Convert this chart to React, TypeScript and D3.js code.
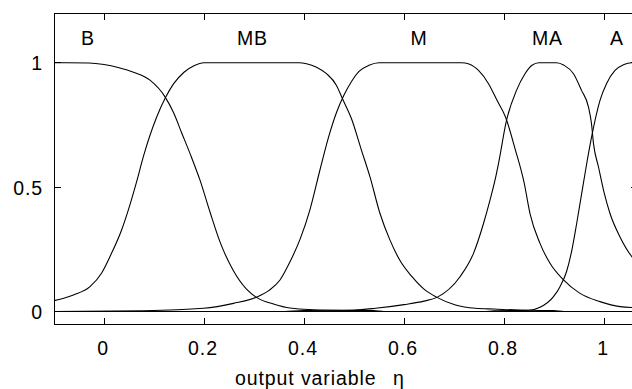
import React from "react";
import * as d3 from "d3";

const W = 632;
const H = 389;

// Membership functions (x, μ)
const bX = [-0.1, -0.03, 0.0, 0.03, 0.059, 0.092, 0.123, 0.139, 0.155, 0.175, 0.192, 0.212, 0.232, 0.258, 0.285, 0.305, 0.339, 0.372, 0.45, 0.54, 0.56, 1.07];
const bY = [1, 0.999, 0.993, 0.98, 0.962, 0.93, 0.86, 0.8, 0.72, 0.62, 0.528, 0.4, 0.28, 0.167, 0.09, 0.057, 0.03, 0.014, 0.005, 0.004, 0, 0];

const mbX = [-0.1, -0.061, -0.028, -0.005, 0.015, 0.035, 0.052, 0.065, 0.079, 0.105, 0.123, 0.139, 0.16, 0.18, 0.2, 0.39, 0.405, 0.425, 0.445, 0.465, 0.477, 0.495, 0.515, 0.532, 0.552, 0.572, 0.592, 0.616, 0.64, 0.666, 0.703, 0.743, 0.78, 0.85, 0.9, 0.92, 1.07];
const mbY = [0.044, 0.067, 0.1, 0.154, 0.234, 0.327, 0.43, 0.52, 0.625, 0.78, 0.86, 0.915, 0.962, 0.988, 1, 1, 0.996, 0.982, 0.956, 0.909, 0.855, 0.775, 0.648, 0.541, 0.394, 0.287, 0.205, 0.14, 0.09, 0.057, 0.026, 0.013, 0.01, 0.005, 0.004, 0, 0];

const mX = [-0.1, 0.08, 0.199, 0.259, 0.305, 0.33, 0.352, 0.372, 0.392, 0.412, 0.432, 0.449, 0.465, 0.48, 0.495, 0.51, 0.53, 0.55, 0.715, 0.73, 0.749, 0.769, 0.786, 0.803, 0.823, 0.84, 0.852, 0.872, 0.892, 0.919, 0.952, 0.992, 1.032, 1.07];
const mY = [0, 0.003, 0.013, 0.033, 0.058, 0.085, 0.127, 0.2, 0.29, 0.41, 0.57, 0.7, 0.8, 0.87, 0.925, 0.965, 0.99, 1, 1, 0.995, 0.969, 0.916, 0.849, 0.782, 0.648, 0.52, 0.394, 0.274, 0.194, 0.127, 0.073, 0.04, 0.02, 0.015];

const maX = [-0.1, 0.35, 0.4, 0.5, 0.543, 0.6, 0.64, 0.666, 0.712, 0.739, 0.759, 0.772, 0.782, 0.789, 0.805, 0.825, 0.842, 0.856, 0.87, 0.905, 0.92, 0.939, 0.955, 0.969, 0.975, 0.979, 0.989, 1.0, 1.012, 1.032, 1.056, 1.07];
const maY = [0, 0, 0.004, 0.006, 0.013, 0.028, 0.042, 0.057, 0.14, 0.234, 0.354, 0.448, 0.528, 0.595, 0.768, 0.889, 0.956, 0.99, 1, 1, 0.99, 0.956, 0.889, 0.822, 0.755, 0.675, 0.581, 0.48, 0.394, 0.3, 0.22, 0.19];

const aX = [-0.1, 0.76, 0.78, 0.85, 0.872, 0.899, 0.912, 0.925, 0.935, 0.945, 0.955, 0.965, 0.975, 0.992, 1.005, 1.022, 1.04, 1.055, 1.07];
const aY = [0, 0, 0.003, 0.005, 0.017, 0.06, 0.1, 0.16, 0.24, 0.35, 0.47, 0.59, 0.7, 0.849, 0.916, 0.969, 0.993, 1, 1];

const mfNames = ["B", "MB", "M", "MA", "A"];
const mfCenters = [-0.032, 0.297, 0.63, 0.887, 1.026];
const mfXs = [bX, mbX, mX, maX, aX];
const mfYs = [bY, mbY, mY, maY, aY];

const xTicks = [0, 0.2, 0.4, 0.6, 0.8, 1];
const xTickLabels = ["0", "0.2", "0.4", "0.6", "0.8", "1"];
const yTicks = [0, 0.5, 1];
const yTickLabels = ["0", "0.5", "1"];

const xLabel = "output variable";
const xLabelSym = "η";

export default function App() {
  const left = 54, right = 637.5, top = 13, bottom = 324;
  const x = d3.scaleLinear().domain([-0.1, 1.067]).range([left, right]);
  const y = d3.scaleLinear().domain([-0.05, 1.2]).range([bottom, top]);
  const line = d3
    .line<[number, number]>()
    .x((d) => x(d[0]))
    .y((d) => y(d[1]))
    .curve(d3.curveMonotoneX);

  const font = "'Liberation Sans', Arial, Helvetica, sans-serif";
  const fs = 19.5;
  const ls = 0.9;
  const tick = 6.5;

  return (
    <svg
      width={W}
      height={H}
      style={{ position: "absolute", left: 0, top: 0, background: "#fff" }}
      fontFamily={font}
    >
      <rect x={0} y={0} width={W} height={H} fill="#fff" />
      <defs>
        <clipPath id="plot">
          <rect x={left} y={top} width={right - left} height={bottom - top} />
        </clipPath>
      </defs>
      <g clipPath="url(#plot)">
        {mfXs.map((xs, i) => {
          const pts = xs.map((v, j) => [v, mfYs[i][j]] as [number, number]);
          return (
            <path
              key={i}
              d={line(pts) || ""}
              fill="none"
              stroke="#000"
              strokeWidth={1.1}
            />
          );
        })}
      </g>
      {/* box */}
      <g shapeRendering="crispEdges" stroke="#000" strokeWidth={1}>
        <rect x={left} y={top} width={right - left} height={bottom - top} fill="none" />
        {xTicks.map((t) => (
          <g key={"xt" + t}>
            <line x1={x(t)} x2={x(t)} y1={bottom} y2={bottom - tick} />
            <line x1={x(t)} x2={x(t)} y1={top} y2={top + tick} />
          </g>
        ))}
        {yTicks.map((t) => (
          <g key={"yt" + t}>
            <line x1={left} x2={left + tick} y1={y(t)} y2={y(t)} />
            <line x1={right} x2={right - tick} y1={y(t)} y2={y(t)} />
          </g>
        ))}
      </g>
      {/* tick labels */}
      <g fontSize={fs} fill="#000" letterSpacing={ls}>
        {xTicks.map((t, i) => (
          <text key={"xl" + t} x={x(t) - 1} y={355} textAnchor="middle">
            {xTickLabels[i]}
          </text>
        ))}
        {yTicks.map((t, i) => (
          <text key={"yl" + t} x={43} y={y(t) + 7.5} textAnchor="end">
            {yTickLabels[i]}
          </text>
        ))}
        {mfNames.map((n, i) => (
          <text key={n} x={x(mfCenters[i])} y={y(1.1) + 7.5} textAnchor="middle">
            {n}
          </text>
        ))}
        <text x={235} y={385}>{xLabel}</text>
        <text x={393} y={385}>{xLabelSym}</text>
      </g>
    </svg>
  );
}
